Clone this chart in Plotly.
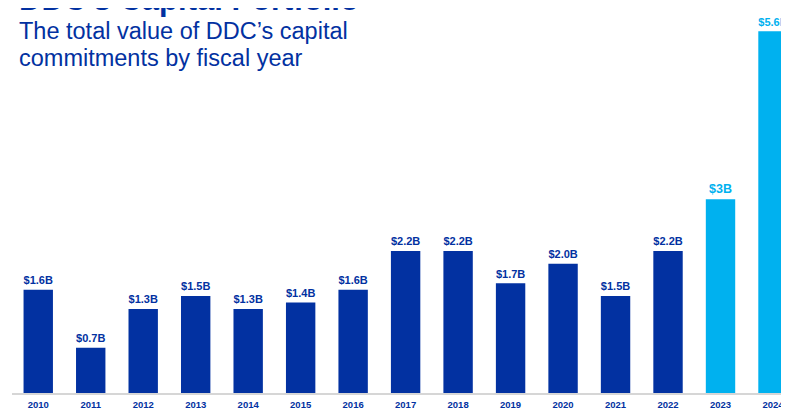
import plotly.graph_objects as go

years = ["2010", "2011", "2012", "2013", "2014", "2015", "2016", "2017",
         "2018", "2019", "2020", "2021", "2022", "2023", "2024"]
values = [1.6, 0.7, 1.3, 1.5, 1.3, 1.4, 1.6, 2.2, 2.2, 1.7, 2.0, 1.5, 2.2, 3.0, 5.6]
labels = ["$1.6B", "$0.7B", "$1.3B", "$1.5B", "$1.3B", "$1.4B", "$1.6B", "$2.2B",
          "$2.2B", "$1.7B", "$2.0B", "$1.5B", "$2.2B", "$3B", "$5.6B"]

DARK = "#0231A1"
LIGHT = "#00B1EF"
FONT = "Liberation Sans, Arial, sans-serif"
colors = [LIGHT if int(y) >= 2023 else DARK for y in years]

fig = go.Figure(go.Bar(
    x=years, y=values, text=labels, texttemplate="<b>%{text}</b>",
    textposition="outside",
    textfont=dict(family=FONT, size=12.5, color=colors),
    marker=dict(color=colors, line=dict(width=0)),
    cliponaxis=False, hoverinfo="skip",
))

# page body has an 8px margin, so the figure is drawn offset by (8, 8)
W, H = 781, 401
L, R, T, B = 4, 0, 0, 16
pw = W - L - R
ph = H - T - B

fig.update_layout(
    width=W, height=H,
    margin=dict(l=L, r=R, t=T, b=B, pad=0, autoexpand=False),
    paper_bgcolor="white", plot_bgcolor="white",
    bargap=0.44, showlegend=False,
    font=dict(family=FONT, color=DARK),
    xaxis=dict(
        type="category", range=[-0.5, 14.305], automargin=False,
        showline=True, linecolor="#D6D6D6", linewidth=2,
        ticks="outside", ticklen=2, tickcolor="rgba(0,0,0,0)",
        tickvals=years, ticktext=["<b>%s</b>" % y for y in years],
        tickfont=dict(size=9.5, color=DARK, family=FONT),
        showgrid=False, zeroline=False,
    ),
    yaxis=dict(range=[0, 5.96], visible=False, showgrid=False, zeroline=False,
               automargin=False),
)

def py(px):
    return 1 - (px - T) / ph

X0 = (9 - L) / pw
fig.add_annotation(
    text="<b>DDC’s Capital Portfolio</b>", xref="paper", yref="paper",
    x=X0, y=py(-8.5), xanchor="left", yanchor="middle",
    showarrow=False, font=dict(size=31, color=DARK, family=FONT),
)
fig.add_annotation(
    text="The total value of DDC’s capital", xref="paper", yref="paper",
    x=X0, y=py(23), xanchor="left", yanchor="middle",
    showarrow=False, font=dict(size=23.5, color=DARK, family=FONT),
)
fig.add_annotation(
    text="commitments by fiscal year", xref="paper", yref="paper",
    x=X0, y=py(50), xanchor="left", yanchor="middle",
    showarrow=False, font=dict(size=23.5, color=DARK, family=FONT),
)

fig.write_html("out.html")
